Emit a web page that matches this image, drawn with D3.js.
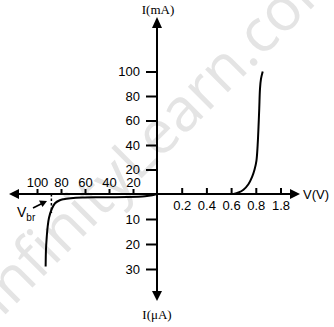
<!DOCTYPE html>
<html>
<head>
<meta charset="utf-8">
<script src="https://cdn.jsdelivr.net/npm/d3@7"></script>
<style>
  body { margin: 0; background: #fff; }
  svg { display: block; }
</style>
</head>
<body>
<div id="chart"></div>
<script>
// forward bias: V (volts), I (mA)
var fwdV = [0.62, 0.66, 0.70, 0.74, 0.77, 0.79, 0.805, 0.815, 0.822, 0.828, 0.834, 0.842, 0.856];
var fwdI = [0, 1.2, 3.5, 8, 14, 20, 27, 40, 55, 70, 86, 94, 100];
// reverse bias: V (volts), I (microamps)
var revV = [0, -4, -10, -25, -47, -62, -72, -78, -81, -85, -88, -90, -91.1, -92, -92.5, -92.8];
var revI = [0, -0.5, -0.9, -1.2, -1.3, -1.4, -1.7, -2.1, -2.5, -3.7, -6.4, -9.5, -13, -18, -22, -29];

var posXTicks = [0.2, 0.4, 0.6, 0.8, 1.0];
var posXLabels = ['0.2', '0.4', '0.6', '0.8', '1.8'];
var negXTicks = [-100, -80, -60, -40, -20];
var negXLabels = ['100', '80', '60', '40', '20'];
var posYTicks = [20, 40, 60, 80, 100];
var negYTicks = [-10, -20, -30];
var negYLabels = ['10', '20', '30'];
var vbr = -88;

var svgW = 334, svgH = 327;
var ox = 157, oy = 194;

var svg = d3.select('#chart').append('svg')
    .attr('width', svgW)
    .attr('height', svgH);

// watermark
svg.append('text')
    .attr('transform', 'translate(174,146) rotate(-45)')
    .attr('text-anchor', 'middle')
    .attr('font-family', 'Open Sans, sans-serif')
    .attr('font-size', 60)
    .attr('fill', '#e4e4e4')
    .text('InfinityLearn.com');

// scales, two per axis since each half has its own unit
var xPos = d3.scaleLinear().domain([0, 1]).range([ox, 280.5]);
var xNeg = d3.scaleLinear().domain([-100, 0]).range([37, ox]);
var yPos = d3.scaleLinear().domain([0, 100]).range([oy, 71.5]);
var yNeg = d3.scaleLinear().domain([-30, 0]).range([269, oy]);

var sans = 'Liberation Sans, Arial, sans-serif';
var serif = 'Liberation Serif, Times New Roman, serif';

function styleAxis(g) {
    g.select('.domain').remove();
    g.selectAll('line').attr('stroke', '#000').attr('stroke-width', 2);
    g.selectAll('text')
        .attr('fill', '#000')
        .attr('font-family', sans)
        .attr('font-size', 13);
}

// y ticks (left side)
svg.append('g')
    .attr('transform', `translate(${ox},0)`)
    .call(d3.axisLeft(yPos).tickValues(posYTicks).tickSize(11).tickPadding(6))
    .call(styleAxis);
svg.append('g')
    .attr('transform', `translate(${ox},0)`)
    .call(d3.axisLeft(yNeg).tickValues(negYTicks).tickSize(11).tickPadding(6)
        .tickFormat((d, i) => negYLabels[i]))
    .call(styleAxis);

// x ticks above the axis
svg.append('g')
    .attr('transform', `translate(0,${oy})`)
    .call(d3.axisTop(xNeg).tickValues(negXTicks).tickSize(5).tickPadding(2)
        .tickFormat((d, i) => negXLabels[i]))
    .call(styleAxis);
var gxp = svg.append('g')
    .attr('transform', `translate(0,${oy})`)
    .call(d3.axisTop(xPos).tickValues(posXTicks).tickSize(6)
        .tickFormat((d, i) => posXLabels[i]))
    .call(styleAxis);
gxp.selectAll('text').attr('y', 16).attr('dy', 0);

// main axes with arrows
svg.append('line')
    .attr('x1', 12).attr('x2', 296).attr('y1', oy).attr('y2', oy)
    .attr('stroke', '#000').attr('stroke-width', 2);
svg.append('line')
    .attr('x1', ox).attr('x2', ox).attr('y1', 22).attr('y2', 297)
    .attr('stroke', '#000').attr('stroke-width', 2);
var heads = [
    [[9, oy], [19, oy - 5], [19, oy + 5]],
    [[300, oy], [290, oy - 5], [290, oy + 5]],
    [[ox, 17], [ox - 5, 28], [ox + 5, 28]],
    [[ox, 301], [ox - 5, 291], [ox + 5, 291]]
];
svg.selectAll('.head')
    .data(heads)
    .enter()
    .append('polygon')
    .attr('class', 'head')
    .attr('points', d => d.map(p => p.join(',')).join(' '))
    .attr('fill', '#000');

// curves
var line = d3.line().curve(d3.curveCatmullRom.alpha(0.5));
var fwdPts = fwdV.map((v, i) => [xPos(v), yPos(fwdI[i])]);
var revPts = revV.map((v, i) => [xNeg(v), yNeg(revI[i])]);
svg.append('path')
    .attr('d', line(fwdPts))
    .attr('fill', 'none').attr('stroke', '#000').attr('stroke-width', 2);
svg.append('path')
    .attr('d', line(revPts))
    .attr('fill', 'none').attr('stroke', '#000').attr('stroke-width', 2);

// breakdown marker
svg.append('line')
    .attr('x1', xNeg(vbr)).attr('x2', xNeg(vbr))
    .attr('y1', oy).attr('y2', 213)
    .attr('stroke', '#000').attr('stroke-width', 1.5)
    .attr('stroke-dasharray', '2.5,2');
svg.append('line')
    .attr('x1', 33).attr('y1', 208).attr('x2', 42).attr('y2', 203.5)
    .attr('stroke', '#000').attr('stroke-width', 1.8);
svg.append('polygon')
    .attr('points', '47,201 39,200.5 42.5,207')
    .attr('fill', '#000');
var vb = svg.append('text')
    .attr('x', 17).attr('y', 217)
    .attr('font-family', sans).attr('font-size', 14)
    .text('V');
vb.append('tspan')
    .attr('dy', 4).attr('font-size', 10)
    .text('br');

// axis titles
svg.append('text')
    .attr('x', 158).attr('y', 14)
    .attr('text-anchor', 'middle')
    .attr('font-family', serif).attr('font-size', 13)
    .text('I(mA)');
svg.append('text')
    .attr('x', 157).attr('y', 319)
    .attr('text-anchor', 'middle')
    .attr('font-family', serif).attr('font-size', 13)
    .text('I(\u03bcA)');
svg.append('text')
    .attr('x', 303).attr('y', 199)
    .attr('font-family', sans).attr('font-size', 13)
    .text('V(V)');
</script>
</body>
</html>
